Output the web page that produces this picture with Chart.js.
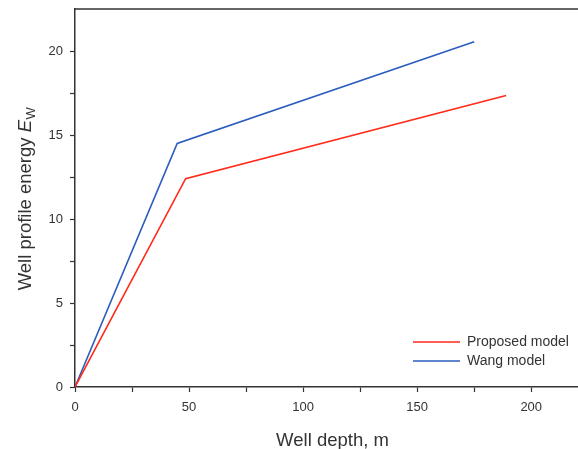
<!DOCTYPE html>
<html>
<head>
<meta charset="utf-8">
<script src="https://cdn.jsdelivr.net/npm/chart.js@4/dist/chart.umd.min.js"></script>
<style>
  html, body { margin: 0; padding: 0; background: #fff; }
  #wrap { width: 578px; height: 449px; position: relative; }
</style>
</head>
<body>
<div id="wrap"><canvas id="chart"></canvas></div>
<script>
// 数据
const depthProposed = [0, 48.5, 189];
const energyProposed = [0, 12.4, 17.35];
const depthWang = [0, 44.8, 175];
const energyWang = [0, 14.5, 20.55];

const seriesLabels = ['Proposed model', 'Wang model'];
const seriesColors = ['#ff2a1a', '#2b5cbf'];

const xTitle = 'Well depth, m';
const yTitle = 'Well profile energy ';

const fontFamily = '"Liberation Sans", Arial, Helvetica, sans-serif';
const textColor = '#333';
const axisColor = '#333';

function toPoints(xs, ys) {
  return xs.map((x, i) => ({ x: x, y: ys[i] }));
}

// 坐标轴标题、顶部边框和图例
const decorPlugin = {
  id: 'decor',
  afterDraw(chart) {
    const ctx = chart.ctx;
    const area = chart.chartArea;
    ctx.save();

    // 顶部边框
    ctx.strokeStyle = axisColor;
    ctx.lineWidth = 1.5;
    ctx.beginPath();
    ctx.moveTo(area.left, area.top);
    ctx.lineTo(area.right, area.top);
    ctx.stroke();

    // x 轴标题
    ctx.fillStyle = textColor;
    ctx.font = '18.5px ' + fontFamily;
    ctx.textAlign = 'center';
    ctx.textBaseline = 'alphabetic';
    ctx.fillText(xTitle, (area.left + area.right) / 2 + 6, 446);

    // y 轴标题（斜体 E，下标 W）
    ctx.translate(31, (area.top + area.bottom) / 2 + 1);
    ctx.rotate(-Math.PI / 2);
    ctx.textAlign = 'left';
    const normalFont = '18.5px ' + fontFamily;
    const italicFont = 'italic 18.5px ' + fontFamily;
    const subFont = '13px ' + fontFamily;
    ctx.font = normalFont;
    const w1 = ctx.measureText(yTitle).width;
    ctx.font = italicFont;
    const w2 = ctx.measureText('E').width;
    ctx.font = subFont;
    const w3 = ctx.measureText('W').width;
    let x0 = -(w1 + w2 + w3) / 2;
    ctx.font = normalFont;
    ctx.fillText(yTitle, x0, 0);
    x0 += w1;
    ctx.font = italicFont;
    ctx.fillText('E', x0, 0);
    x0 += w2 + 0.5;
    ctx.font = subFont;
    ctx.fillText('W', x0, 3.5);
    ctx.restore();

    // 图例
    ctx.save();
    ctx.font = '14px ' + fontFamily;
    ctx.textBaseline = 'middle';
    ctx.fillStyle = textColor;
    ctx.lineWidth = 1.5;
    chart.data.datasets.forEach((ds, i) => {
      const y = 342 + i * 19;
      ctx.strokeStyle = ds.borderColor;
      ctx.beginPath();
      ctx.moveTo(413, y);
      ctx.lineTo(460, y);
      ctx.stroke();
      ctx.fillText(ds.label, 467, y);
    });
    ctx.restore();
  }
};

new Chart(document.getElementById('chart'), {
  type: 'scatter',
  data: {
    datasets: [
      {
        label: seriesLabels[0],
        data: toPoints(depthProposed, energyProposed),
        borderColor: seriesColors[0],
        backgroundColor: seriesColors[0],
        showLine: true,
        borderWidth: 1.6,
        pointRadius: 0,
        tension: 0
      },
      {
        label: seriesLabels[1],
        data: toPoints(depthWang, energyWang),
        borderColor: seriesColors[1],
        backgroundColor: seriesColors[1],
        showLine: true,
        borderWidth: 1.6,
        pointRadius: 0,
        tension: 0
      }
    ]
  },
  options: {
    responsive: true,
    maintainAspectRatio: false,
    animation: false,
    layout: { padding: { top: 9, right: 0, bottom: 0, left: 0 } },
    plugins: {
      legend: { display: false },
      tooltip: { enabled: false }
    },
    scales: {
      x: {
        type: 'linear',
        min: 0,
        max: 220.5,
        afterFit(scale) {
          scale.height = 62;
          scale.paddingLeft = 0;
          scale.paddingRight = 0;
        },
        afterBuildTicks(scale) {
          const t = [];
          for (let v = 0; v <= 200; v += 25) t.push({ value: v });
          scale.ticks = t;
        },
        border: { color: axisColor, width: 1.5 },
        grid: {
          drawOnChartArea: false,
          drawTicks: true,
          tickLength: 5,
          tickColor: axisColor,
          tickWidth: 1.2
        },
        ticks: {
          color: textColor,
          font: { family: fontFamily, size: 13 },
          padding: 8,
          maxRotation: 0,
          autoSkip: false,
          callback: (v) => (v % 50 === 0 ? String(v) : '')
        }
      },
      y: {
        type: 'linear',
        min: 0,
        max: 22.5,
        afterFit(scale) {
          scale.width = 75;
          scale.paddingTop = 0;
          scale.paddingBottom = 0;
        },
        afterBuildTicks(scale) {
          const t = [];
          for (let v = 0; v <= 20; v += 2.5) t.push({ value: v });
          scale.ticks = t;
        },
        border: { color: axisColor, width: 1.5 },
        grid: {
          drawOnChartArea: false,
          drawTicks: true,
          tickLength: 5,
          tickColor: axisColor,
          tickWidth: 1.2
        },
        ticks: {
          color: textColor,
          font: { family: fontFamily, size: 13 },
          padding: 7,
          autoSkip: false,
          callback: (v) => (v % 5 === 0 ? String(v) : '')
        }
      }
    }
  },
  plugins: [decorPlugin]
});
</script>
</body>
</html>
